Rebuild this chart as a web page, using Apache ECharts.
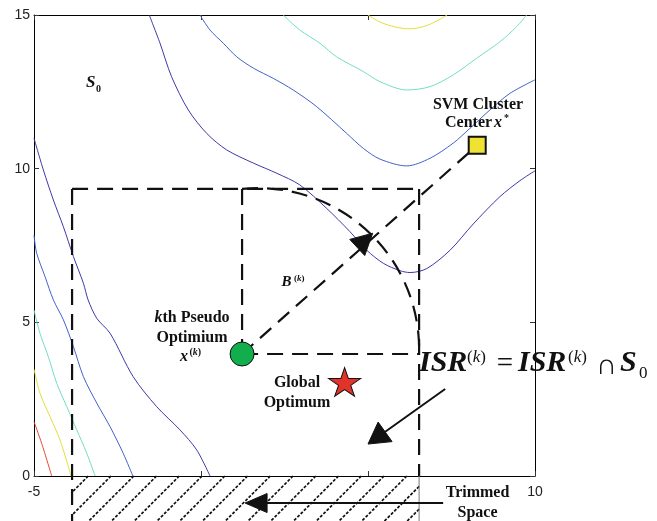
<!DOCTYPE html>
<html>
<head>
<meta charset="utf-8">
<script src="https://cdn.jsdelivr.net/npm/echarts@6/dist/echarts.min.js"></script>
<style>
  html, body { margin: 0; padding: 0; background: #fff; }
  #chart { width: 657px; height: 521px; }
</style>
</head>
<body>
<div id="chart"></div>
<script>
// Axis ranges and ticks of the search space S0
const xTicks = [-5, 0, 5, 10];
const yTicks = [0, 5, 10, 15];
const xShownLabels = [-5, 10];

// Contour lines of the objective, one array per traced level curve (x, y)
const contourValleyDark = [[-1.55,15],[-1.23,14.09],[-0.88,12.99],[-0.38,11.91],[0.17,11.15],[0.77,10.61],[1.57,10.18],[2.27,9.85],[2.96,9.47],[3.76,8.71],[4.46,7.95],[4.96,7.35],[5.46,6.92],[5.96,6.68],[6.26,6.62],[6.76,6.75],[7.46,7.35],[8.15,8.20],[8.95,9.09],[9.55,9.61],[10,9.93]];
const contourLeftDark = [[-5,10.99],[-4.72,9.96],[-4.42,8.98],[-4.12,8.11],[-3.82,7.14],[-3.52,6.27],[-3.38,5.73],[-3.12,5.13],[-2.72,4.64],[-2.03,3.23],[-1.33,2.26],[-0.63,1.50],[-0.13,0.85],[0.27,0]];
const contourLeftBlue = [[-5,7.84],[-4.92,7.25],[-4.67,6.49],[-4.42,5.73],[-4.12,5.08],[-3.82,4.21],[-3.52,3.23],[-3.12,2.37],[-2.72,1.60],[-2.33,0.74],[-2.04,0]];
const contourLeftCyan = [[-5,5.40],[-4.82,4.64],[-4.57,3.88],[-4.32,3.02],[-4.02,2.26],[-3.72,1.50],[-3.42,0.74],[-3.17,0]];
const contourLeftYellow = [[-5,3.48],[-4.82,2.69],[-4.52,1.93],[-4.22,1.17],[-3.89,0]];
const contourLeftRed = [[-5,1.77],[-4.77,1.06],[-4.47,0]];
const contourUpperBlue = [[-0.03,15],[0.27,14.51],[0.67,14.08],[1.07,13.64],[1.57,13.27],[2.16,12.94],[2.76,12.56],[3.46,12.02],[4.36,11.15],[4.86,10.66],[5.36,10.31],[6.16,10.09],[6.86,10.34],[7.55,10.83],[8.05,11.31],[8.65,11.91],[9.25,12.45],[10,12.89]];
const contourUpperCyan = [[2.46,15],[2.96,14.51],[3.56,14.08],[4.06,13.64],[4.86,13.16],[5.36,12.83],[6.16,12.56],[6.86,12.67],[7.55,13.05],[8.25,13.59],[8.95,14.13],[9.45,14.62],[9.75,15]];
const contourUpperYellow = [[5.0,15],[5.36,14.77],[5.81,14.61],[6.26,14.55],[6.71,14.64],[7.07,14.81],[7.37,15]];

// Key points of the search
const pseudoOptimum = [[1.23, 3.97]];
const globalOptimum = [[4.30, 3.06]];
const svmCenter = [[8.27, 10.76]];

// Current search region and trimmed band
const regionLeft = -3.86, regionRight = 6.53, regionTop = 9.34, bandBottom = -1.5;
const boxTop = [[regionLeft, regionTop], [regionRight, regionTop]];
const boxLeft = [[regionLeft, regionTop], [regionLeft, bandBottom]];
const boxRight = [[regionRight, regionTop], [regionRight, 0]];
const boxRightBand = [[regionRight, 0], [regionRight, bandBottom]];
const pseudoVertical = [[1.23, regionTop], [1.23, 3.97]];
const pseudoHorizontal = [[1.23, 3.97], [regionRight, 3.97]];
const towardCenter = [[1.23, 3.97], [8.27, 10.76]];
const trimmedBand = [[regionLeft, 0, regionRight, bandBottom]];

// Radius B(k) arc: centre (x, y), x-radius, start x
const radiusArc = [[1.71, 4.13, 4.82, 1.23]];

// Arrows: from (x, y) to tip (x, y)
const radiusArrowHead = [[1.23, 3.97, 5.14, 7.90]];
const isrArrow = [[7.31, 2.83, 5.0, 1.04]];
const trimmedArrow = [[7.25, -0.88, 1.32, -0.88]];

const INK = '#111';
const SERIF = '"Liberation Serif", "Times New Roman", serif';
const SANS = '"Liberation Sans", Arial, Helvetica, sans-serif';

const chart = echarts.init(document.getElementById('chart'), null, { renderer: 'canvas' });

function contour(data, color) {
  return {
    type: 'line', data: data, symbol: 'none', showSymbol: false, smooth: 0.3,
    lineStyle: { color: color, width: 1 }, silent: true, z: 2, animation: false
  };
}
function dashed(data, extra) {
  return Object.assign({
    type: 'line', data: data, symbol: 'none', showSymbol: false, clip: false,
    lineStyle: { color: INK, width: 2.2, type: [16, 9] }, silent: true, z: 4, animation: false
  }, extra || {});
}

function arrowRenderer(opts) {
  return function (params, api) {
    const a = api.coord([api.value(0), api.value(1)]);
    const b = api.coord([api.value(2), api.value(3)]);
    const dx = b[0] - a[0], dy = b[1] - a[1];
    const len = Math.hypot(dx, dy);
    const ux = dx / len, uy = dy / len;
    const base = [b[0] - ux * opts.len, b[1] - uy * opts.len];
    const p1 = [base[0] - uy * opts.half, base[1] + ux * opts.half];
    const p2 = [base[0] + uy * opts.half, base[1] - ux * opts.half];
    const children = [];
    if (opts.shaft) {
      children.push({ type: 'line', shape: { x1: a[0], y1: a[1], x2: base[0] + ux * 2, y2: base[1] + uy * 2 },
        style: { stroke: INK, lineWidth: 2 } });
    }
    children.push({ type: 'polygon', shape: { points: [b, p1, p2] }, style: { fill: INK, stroke: INK, lineWidth: 1 } });
    return { type: 'group', children: children };
  };
}

function hatchRenderer(params, api) {
  const tl = api.coord([api.value(0), api.value(1)]);
  const br = api.coord([api.value(2), api.value(3)]);
  const x0 = tl[0], y0 = tl[1], x1 = br[0], y1 = br[1];
  const children = [{ type: 'rect', shape: { x: x0, y: y0 + 1, width: x1 - x0, height: y1 - y0 }, style: { fill: '#fff' } }];
  const step = 22.75;
  // lines of constant (px + py), rising to the right
  const c0 = 88.3 + y0;
  let c = c0 - Math.ceil((c0 - (x0 + y0)) / step) * step;
  for (; c <= x1 + y1; c += step) {
    const pyA = Math.max(y0, c - x1), pyB = Math.min(y1, c - x0);
    if (pyB <= pyA) continue;
    children.push({ type: 'line', shape: { x1: c - pyA, y1: pyA, x2: c - pyB, y2: pyB },
      style: { stroke: INK, lineWidth: 1.7, lineDash: [3, 1.6] } });
  }
  return { type: 'group', children: children };
}

function arcRenderer(params, api) {
  const c = api.coord([api.value(0), api.value(1)]);
  const r = api.size([api.value(2), 0])[0];
  const sx = api.coord([api.value(3), 0])[0];
  const start = -Math.PI / 2 - Math.asin(Math.max(-1, Math.min(1, (c[0] - sx) / r)));
  return {
    type: 'arc',
    shape: { cx: c[0], cy: c[1], r: r, startAngle: start, endAngle: 0, clockwise: true },
    style: { fill: 'none', stroke: INK, lineWidth: 2.2, lineDash: [16, 9] }
  };
}

const starPath = 'path://M0,-1L0.2245,-0.309L0.951,-0.309L0.363,0.118L0.588,0.809L0,0.382L-0.588,0.809L-0.363,0.118L-0.951,-0.309L-0.2245,-0.309Z';

function label(text, x, y, font, align, extra) {
  return Object.assign({
    type: 'text', x: x, y: y, z: 50, silent: true,
    style: { text: text, font: font, fill: INK, textAlign: align || 'left', textVerticalAlign: 'middle',
      align: align || 'left', verticalAlign: 'middle' }
  }, extra || {});
}

const boldSerif = (px) => 'bold ' + px + 'px ' + SERIF;
const boldItalicSerif = (px) => 'italic bold ' + px + 'px ' + SERIF;
const serif = (px) => px + 'px ' + SERIF;
const italicSerif = (px) => 'italic ' + px + 'px ' + SERIF;

// "(k)" superscript: upright parentheses around an italic k
function superK(x, y, px, bold) {
  return {
    type: 'text', x: x, y: y, z: 50, silent: true,
    style: {
      text: '{p|(}{k|k}{p|)}', textAlign: 'left', textVerticalAlign: 'middle', align: 'left', verticalAlign: 'middle',
      fill: INK,
      rich: {
        p: { font: (bold ? 'bold ' : '') + px + 'px ' + SERIF, fill: INK },
        k: { font: 'italic ' + (bold ? 'bold ' : '') + px + 'px ' + SERIF, fill: INK }
      }
    }
  };
}

function axisCommon() {
  return {
    axisLine: { onZero: false, lineStyle: { color: '#000', width: 1 } },
    axisTick: { inside: true, length: 5, lineStyle: { color: '#333' } },
    splitLine: { show: false }
  };
}

chart.setOption({
  animation: false,
  backgroundColor: '#fff',
  grid: { left: 34, top: 15, width: 501, height: 461, containLabel: false },
  xAxis: [
    Object.assign(axisCommon(), {
      type: 'value', min: xTicks[0], max: xTicks[xTicks.length - 1], interval: 5, position: 'bottom',
      axisLabel: { margin: 9, color: '#222', fontSize: 14, fontFamily: SANS,
        formatter: (v) => xShownLabels.indexOf(v) >= 0 ? String(v) : '' }
    }),
    Object.assign(axisCommon(), {
      type: 'value', min: xTicks[0], max: xTicks[xTicks.length - 1], interval: 5, position: 'top',
      axisLabel: { show: false }
    })
  ],
  yAxis: [
    Object.assign(axisCommon(), {
      type: 'value', min: yTicks[0], max: yTicks[yTicks.length - 1], interval: 5, position: 'left',
      axisLabel: { margin: 4, color: '#222', fontSize: 14, fontFamily: SANS }
    }),
    Object.assign(axisCommon(), {
      type: 'value', min: yTicks[0], max: yTicks[yTicks.length - 1], interval: 5, position: 'right',
      axisLabel: { show: false }
    })
  ],
  series: [
    contour(contourValleyDark, '#3d39a8'),
    contour(contourLeftDark, '#3d39a8'),
    contour(contourLeftBlue, '#4262c6'),
    contour(contourUpperBlue, '#4262c6'),
    contour(contourLeftCyan, '#74dcc6'),
    contour(contourUpperCyan, '#74dcc6'),
    contour(contourLeftYellow, '#e6dc3a'),
    contour(contourUpperYellow, '#e6dc3a'),
    contour(contourLeftRed, '#e64a2c'),
    {
      type: 'custom', data: trimmedBand, renderItem: hatchRenderer, clip: false, silent: true, z: 3
    },
    dashed(boxTop), dashed(boxLeft), dashed(boxRight),
    dashed(boxRightBand, { lineStyle: { color: '#777', width: 1, type: 'solid' } }),
    dashed(pseudoVertical), dashed(pseudoHorizontal),
    dashed(towardCenter, { lineStyle: { color: INK, width: 2.2, type: [15, 9] } }),
    { type: 'custom', data: radiusArc, renderItem: arcRenderer, clip: false, silent: true, z: 4 },
    { type: 'custom', data: radiusArrowHead, renderItem: arrowRenderer({ len: 21, half: 11, shaft: false }), clip: false, silent: true, z: 6 },
    { type: 'custom', data: isrArrow, renderItem: arrowRenderer({ len: 21, half: 12, shaft: true }), clip: false, silent: true, z: 6 },
    { type: 'custom', data: trimmedArrow, renderItem: arrowRenderer({ len: 22, half: 9.5, shaft: true }), clip: false, silent: true, z: 6 },
    {
      type: 'scatter', data: pseudoOptimum, symbol: 'circle', symbolSize: 24, z: 8, silent: true,
      itemStyle: { color: '#12ad4d', borderColor: INK, borderWidth: 1, opacity: 1 }
    },
    {
      type: 'scatter', data: svmCenter, symbol: 'rect', symbolSize: 17, z: 8, silent: true,
      itemStyle: { color: '#f0e233', borderColor: INK, borderWidth: 2, opacity: 1 }
    },
    {
      type: 'scatter', data: globalOptimum, symbol: starPath, symbolSize: [32, 30], symbolKeepAspect: true, z: 8, silent: true,
      itemStyle: { color: '#e2332a', borderColor: INK, borderWidth: 1, opacity: 1 }
    }
  ],
  graphic: [
    // S0 region label
    label('S', 86, 83, boldItalicSerif(17)),
    label('0', 96, 89, boldSerif(10)),
    // SVM cluster centre
    label('SVM Cluster', 478, 104.5, boldSerif(16), 'center'),
    label('Center', 445, 123, boldSerif(16)),
    label('x', 494, 123, boldItalicSerif(16)),
    label('*', 504, 118, boldSerif(10)),
    // pseudo optimum
    {
      type: 'text', x: 192, y: 317.5, z: 50, silent: true,
      style: {
        text: '{i|k}{b|th Pseudo}', textAlign: 'center', textVerticalAlign: 'middle', align: 'center', verticalAlign: 'middle',
        fill: INK,
        rich: {
          i: { font: boldItalicSerif(16), fill: INK },
          b: { font: boldSerif(16), fill: INK }
        }
      }
    },
    label('Optimium', 192, 337.5, boldSerif(16), 'center'),
    label('x', 180, 356.5, boldItalicSerif(16)),
    superK(189.5, 352, 10, true),
    // radius label
    label('B', 281.5, 282.5, boldItalicSerif(15)),
    superK(294, 278.5, 9, true),
    // global optimum
    label('Global', 297, 382.5, boldSerif(16), 'center'),
    label('Optimum', 297, 402.5, boldSerif(16), 'center'),
    // trimmed band
    label('Trimmed', 477.5, 492.5, boldSerif(16), 'center'),
    label('Space', 477.5, 512.5, boldSerif(16), 'center'),
    // ISR update rule
    label('ISR', 419, 363.5, boldItalicSerif(30)),
    superK(467, 357.5, 17, false),
    label('=', 505, 364, serif(29), 'center'),
    label('ISR', 518, 363.5, boldItalicSerif(30)),
    superK(568, 357.5, 17, false),
    label('\u2229', 596, 366, serif(29)),
    label('S', 620, 363.5, boldItalicSerif(30)),
    label('0', 639, 374, serif(17))
  ]
});
</script>
</body>
</html>
